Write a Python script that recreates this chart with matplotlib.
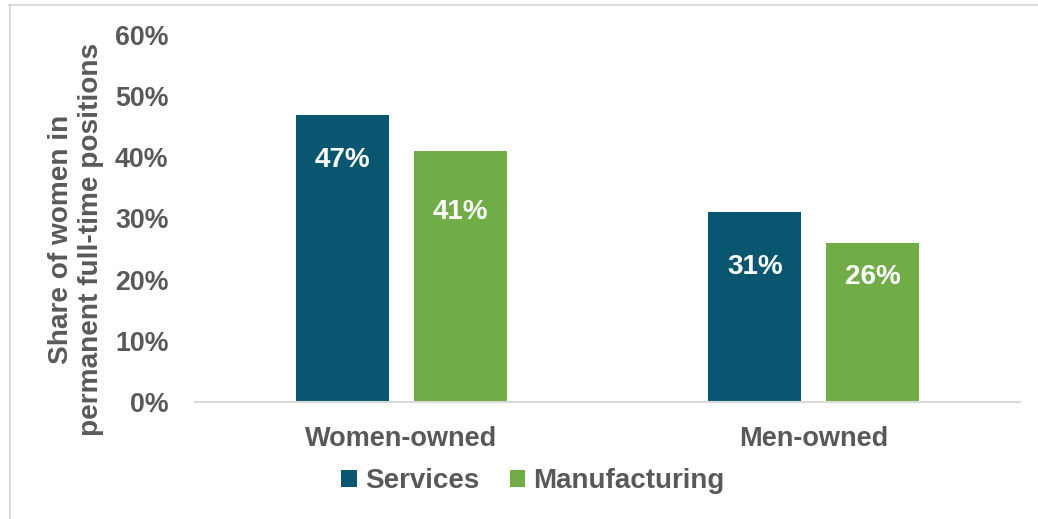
import matplotlib
matplotlib.use("Agg")
import matplotlib.pyplot as plt
from matplotlib.lines import Line2D
from matplotlib.patches import Patch
import numpy as np

plt.rcParams['font.family'] = ['Liberation Sans', 'DejaVu Sans']

categories = ["Women-owned", "Men-owned"]
series_names = ["Services", "Manufacturing"]
services = [47, 31]
manufacturing = [41, 26]
yticks = [0, 10, 20, 30, 40, 50, 60]
ytick_labels = ["0%", "10%", "20%", "30%", "40%", "50%", "60%"]
ylabel = "Share of women in\npermanent full-time positions"

# label vertical positions (style/placement, in axis units)
label_pos_services = [39.6, 22.1]
label_pos_manuf = [31.1, 20.4]

navy = "#08566F"
green = "#70AD47"
gray = "#595959"
axis_gray = "#D9D9D9"

fig = plt.figure(figsize=(10.38, 5.19), dpi=100)
ax = fig.add_axes([195/1038, 1-402/519, (1020-195)/1038, (402-35)/519])

x = np.arange(len(categories))
w = 0.225
off = 0.143
ax.bar(x - off, services, width=w, color=navy, label=series_names[0])
ax.bar(x + off, manufacturing, width=w, color=green, label=series_names[1])

for xi, v, yp in zip(x - off, services, label_pos_services):
    ax.text(xi, yp, f"{v}%", ha="center", va="center", color="white",
            fontsize=20, fontweight="bold")
for xi, v, yp in zip(x + off, manufacturing, label_pos_manuf):
    ax.text(xi, yp, f"{v}%", ha="center", va="center", color="white",
            fontsize=20, fontweight="bold")

ax.set_xlim(-0.5, 1.5)
ax.set_ylim(0, 60)
ax.set_yticks(yticks)
ax.set_yticklabels(ytick_labels, fontsize=19.3, fontweight="bold", color=gray)
ax.set_xticks(x)
ax.set_xticklabels(categories, fontsize=19.5, fontweight="bold", color=gray)
ax.tick_params(axis="y", length=0, pad=19)
ax.tick_params(axis="x", length=0, pad=17)
for s in ["top", "right", "left"]:
    ax.spines[s].set_visible(False)
ax.spines["bottom"].set_color(axis_gray)
ax.spines["bottom"].set_linewidth(1.5)

fig.text(76/1038, 1-239/519, ylabel, rotation=90, ha="center", va="center",
         fontsize=20.2, fontweight="bold", color=gray, multialignment="center",
         linespacing=1.25)

handles = [Patch(facecolor=navy, edgecolor="none", label=series_names[0]),
           Patch(facecolor=green, edgecolor="none", label=series_names[1])]
leg = fig.legend(handles=handles, loc="center", bbox_to_anchor=(533/1038, 1-481/519),
                 ncol=2, frameon=False, handlelength=0.55, handleheight=0.55,
                 handletextpad=0.3, columnspacing=1.1,
                 prop={"size": 20, "weight": "bold"})
for t in leg.get_texts():
    t.set_color(gray)

# outer border (top and left)
fig.add_artist(Line2D([9/1038, 1.0], [1-5/519, 1-5/519], color=axis_gray, lw=1.5,
                      transform=fig.transFigure))
fig.add_artist(Line2D([9.5/1038, 9.5/1038], [0, 1-5/519], color=axis_gray, lw=1.5,
                      transform=fig.transFigure))

fig.savefig("out.png", dpi=100)
